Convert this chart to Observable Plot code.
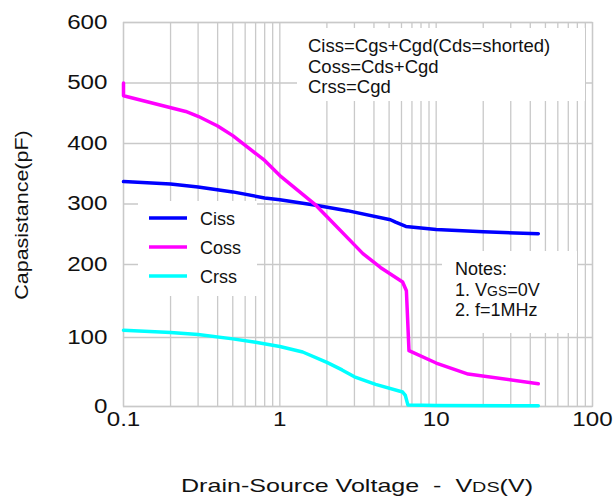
<!DOCTYPE html>
<html>
<head>
<meta charset="utf-8">
<script src="https://cdn.jsdelivr.net/npm/d3@7"></script>
<script src="https://cdn.jsdelivr.net/npm/@observablehq/plot@0.6"></script>
<style>
  body { margin: 0; background: #fff; }
  svg { display: block; }
</style>
</head>
<body>
<div id="chart"></div>
<script>
// Capacitance vs drain-source voltage, [VDS (V), C (pF)]
const seriesNames = ["Ciss", "Coss", "Crss"];
const seriesColors = ["#0000ff", "#ff00ff", "#00ffff"];

const ciss = [
  [0.1, 337], [0.2, 333], [0.3, 328], [0.5, 320], [0.8, 310], [1, 307],
  [1.7, 298], [2.7, 289], [5.1, 274], [5.5, 270], [6.4, 263], [10, 258],
  [20, 254], [45, 251]
];
const coss = [
  [0.1, 500], [0.1, 479], [0.25, 453], [0.3, 445], [0.4, 429], [0.5, 413],
  [0.8, 372], [1, 347], [1.7, 298], [3.4, 218], [4.4, 196], [6.1, 176],
  [6.45, 164], [6.7, 81], [10, 63], [16, 47], [45, 33]
];
const crss = [
  [0.1, 110], [0.2, 107], [0.3, 104], [0.5, 98], [0.7, 93], [1, 87],
  [1.4, 79], [2, 64], [2.5, 53], [3, 43], [4.1, 32], [6.1, 21], [6.35, 16],
  [6.6, 2], [10, 1.5], [45, 1]
];

const xTicks = [0.1, 1, 10, 100];
const xTickLabels = ["0.1", "1", "10", "100"];
const yTicks = [0, 100, 200, 300, 400, 500, 600];
const xGrid = [0.1, 1, 10].flatMap(d => d3.range(1, 10).map(k => +(k * d).toPrecision(3))).concat([100]);

const formulas = ["Ciss=Cgs+Cgd(Cds=shorted)", "Coss=Cds+Cgd", "Crss=Cgd"];
const yTitle = "Capasistance(pF)";

// The printed capacitance axis is not evenly spaced below 200 pF:
// warp pF onto an even layout axis, keeping the labels in pF.
const warp = d3.scaleLinear().domain([0, 100, 200, 600]).range([0, 69, 142, 384]);
const yTickPos = yTicks.map(warp);

const rows = [ciss, coss, crss].flatMap((s, i) =>
  s.map(([v, c]) => ({name: seriesNames[i], v, c})));

const font = "'Liberation Sans', Arial, Helvetica, sans-serif";
const ink = "#111";
const gridColor = "#c9c9c9";

const chart = Plot.plot({
  width: 615,
  height: 497,
  marginLeft: 123,
  marginRight: 23,
  marginTop: 22,
  marginBottom: 91,
  style: {fontFamily: font, fontSize: "19.5px", color: ink, background: "#fff"},
  x: {
    type: "log",
    domain: [0.1, 100],
    ticks: xTicks,
    tickFormat: d => xTickLabels[xTicks.indexOf(d)],
    tickSize: 0,
    tickPadding: 6,
    label: null
  },
  y: {
    domain: [0, warp(600)],
    ticks: yTickPos,
    tickFormat: p => String(yTicks[yTickPos.indexOf(p)]),
    tickSize: 0,
    tickPadding: 16,
    label: null
  },
  color: {domain: seriesNames, range: seriesColors},
  marks: [
    Plot.ruleX(xGrid, {stroke: gridColor, strokeWidth: 1.3}),
    Plot.ruleY(yTickPos, {stroke: gridColor, strokeWidth: 1.3}),
    Plot.frame({stroke: gridColor, strokeWidth: 1.3}),
    Plot.line(rows, {
      x: "v",
      y: d => warp(d.c),
      z: "name",
      stroke: "name",
      strokeWidth: 3.5,
      strokeLinejoin: "round"
    })
  ]
});

document.getElementById("chart").appendChild(chart);

const svg = d3.select(chart);

// widen a text's glyphs horizontally about its anchor point
function widen(sel, k) {
  sel.each(function() {
    const b = this.getBBox();
    if (!b.width) return;
    const anchor = getComputedStyle(this).textAnchor;
    const ax = anchor === "end" ? b.x + b.width
      : anchor === "middle" ? b.x + b.width / 2 : b.x;
    const t = this.getAttribute("transform") || "";
    this.setAttribute("transform",
      `${t} translate(${ax},0) scale(${k},1) translate(${-ax},0)`.trim());
  });
}

// tick labels are set in a wide face
widen(svg.selectAll("text"), 1.24);

const g = svg.append("g")
  .attr("font-family", font)
  .attr("text-anchor", "start")
  .attr("fill", ink);

// white panels that sit over the grid
const panels = [
  {x: 297, y: 28, w: 288, h: 73},
  {x: 138, y: 201, w: 119, h: 95},
  {x: 442, y: 251, w: 135, h: 82}
];
g.selectAll("rect.panel").data(panels).join("rect")
  .attr("class", "panel")
  .attr("x", d => d.x).attr("y", d => d.y)
  .attr("width", d => d.w).attr("height", d => d.h)
  .attr("fill", "#fff");

// capacitance definitions
g.selectAll("text.formula").data(formulas).join("text")
  .attr("class", "formula")
  .attr("x", 308).attr("y", (d, i) => [52, 73, 93][i])
  .attr("font-size", 18.5)
  .text(d => d);

// legend
const legendY = [218, 247, 276];
seriesNames.forEach((name, i) => {
  g.append("line")
    .attr("x1", 149).attr("x2", 187)
    .attr("y1", legendY[i]).attr("y2", legendY[i])
    .attr("stroke", seriesColors[i]).attr("stroke-width", 3.5);
  g.append("text")
    .attr("x", 200).attr("y", legendY[i] + 7)
    .attr("font-size", 18)
    .text(name);
});

// test conditions
const notes = g.append("g").attr("font-size", 18);
notes.append("text").attr("x", 455).attr("y", 275).text("Notes:");
const n1 = notes.append("text").attr("x", 455).attr("y", 296);
n1.append("tspan").text("1. V");
n1.append("tspan").attr("font-size", 14).text("GS");
n1.append("tspan").text("=0V");
notes.append("text").attr("x", 455).attr("y", 316).text("2. f=1MHz");

// axis titles
const yt = g.append("text")
  .attr("transform", "translate(28,215) rotate(-90)")
  .attr("text-anchor", "middle")
  .attr("font-size", 19)
  .text(yTitle);
widen(yt, 1.13);

const xt = g.append("text")
  .attr("x", 181).attr("y", 492)
  .attr("font-size", 19)
  .attr("xml:space", "preserve");
xt.append("tspan").text("Drain-Source Voltage  -  V");
xt.append("tspan").attr("font-size", 15).text("DS");
xt.append("tspan").text("(V)");
xt.attr("textLength", 352).attr("lengthAdjust", "spacingAndGlyphs");
</script>
</body>
</html>
